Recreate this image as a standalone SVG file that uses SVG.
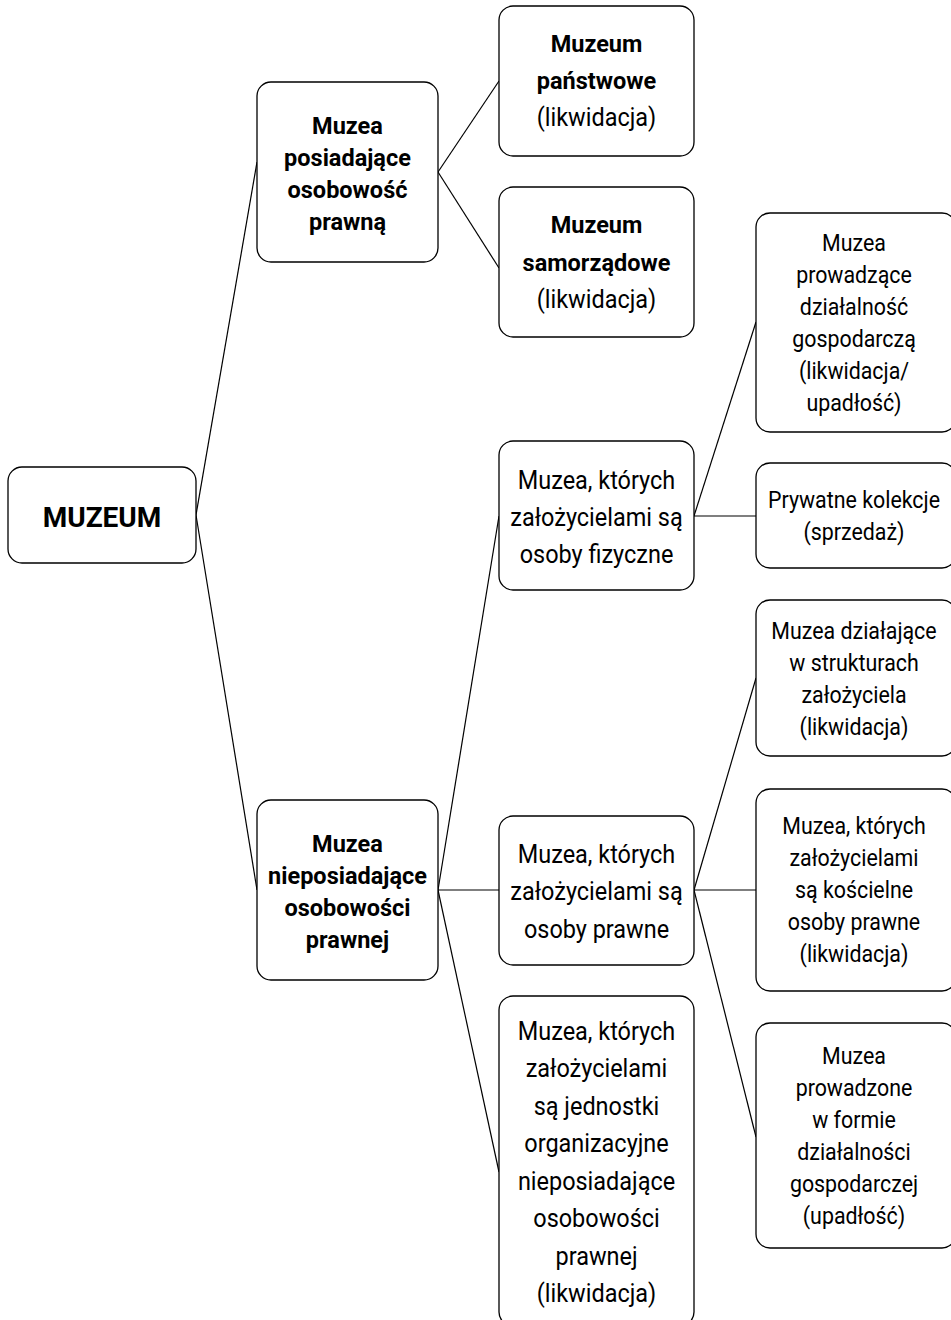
<svg xmlns="http://www.w3.org/2000/svg" width="951" height="1320" viewBox="0 0 951 1320">
<style>
.box{fill:#fff;stroke:#000;stroke-width:1.3}
.ln{stroke:#000;stroke-width:1.2;fill:none}
text{font-family:Roboto,"Liberation Sans",sans-serif;text-anchor:middle;fill:#000}
.r24{font-size:26.5px}
.r21{font-size:23.5px}
.b22{font-size:23.5px;font-weight:bold}
.b24{font-size:23.5px;font-weight:bold}
</style>
<rect width="951" height="1320" fill="#fff"/>
<g id="connectors">
<line class="ln" x1="196" y1="515" x2="257" y2="162"/>
<line class="ln" x1="196" y1="515" x2="257" y2="890"/>
<line class="ln" x1="438" y1="172" x2="499" y2="81"/>
<line class="ln" x1="438" y1="172" x2="499" y2="268"/>
<line class="ln" x1="438" y1="890" x2="499" y2="516"/>
<line class="ln" x1="438" y1="890" x2="499" y2="890"/>
<line class="ln" x1="438" y1="890" x2="499" y2="1172"/>
<line class="ln" x1="694" y1="516" x2="756" y2="322"/>
<line class="ln" x1="694" y1="516" x2="756" y2="516"/>
<line class="ln" x1="694" y1="890" x2="756" y2="678"/>
<line class="ln" x1="694" y1="890" x2="756" y2="890"/>
<line class="ln" x1="694" y1="890" x2="756" y2="1137"/>
</g>
<g id="n-muzeum">
<rect class="box" x="8" y="467" width="188" height="96" rx="14"/>
<text x="102" y="527" style="font-size:28px;font-weight:bold">MUZEUM</text>
</g>
<g id="n-posiadajace">
<rect class="box" x="257" y="82" width="181" height="180" rx="14"/>
<text class="b22" x="347.5" y="134">Muzea</text>
<text class="b22" x="347.5" y="166">posiadające</text>
<text class="b22" x="347.5" y="198">osobowość</text>
<text class="b22" x="347.5" y="230">prawną</text>
</g>
<g id="n-panstwowe">
<rect class="box" x="499" y="6" width="195" height="150" rx="14"/>
<text class="b24" x="596.5" y="52">Muzeum</text>
<text class="b24" x="596.5" y="89">państwowe</text>
<text class="r24" transform="translate(596.5,0) scale(0.885,1)" x="0" y="126">(likwidacja)</text>
</g>
<g id="n-samorzadowe">
<rect class="box" x="499" y="187" width="195" height="150" rx="14"/>
<text class="b24" x="596.5" y="233">Muzeum</text>
<text class="b24" x="596.5" y="271">samorządowe</text>
<text class="r24" transform="translate(596.5,0) scale(0.885,1)" x="0" y="308">(likwidacja)</text>
</g>
<g id="n-prowadzace">
<rect class="box" x="756" y="213" width="200" height="219" rx="14"/>
<g transform="translate(854,0) scale(0.91,1)">
<text class="r21" x="0" y="251">Muzea</text>
<text class="r21" x="0" y="283">prowadzące</text>
<text class="r21" x="0" y="315">działalność</text>
<text class="r21" x="0" y="347">gospodarczą</text>
<text class="r21" x="0" y="379">(likwidacja/</text>
<text class="r21" x="0" y="411">upadłość)</text>
</g>
</g>
<g id="n-prywatne">
<rect class="box" x="756" y="463" width="200" height="105" rx="14"/>
<g transform="translate(854,0) scale(0.91,1)">
<text class="r21" x="0" y="508">Prywatne kolekcje</text>
<text class="r21" x="0" y="540">(sprzedaż)</text>
</g>
</g>
<g id="n-fizyczne">
<rect class="box" x="499" y="441" width="195" height="149" rx="14"/>
<g transform="translate(596.5,0) scale(0.885,1)">
<text class="r24" x="0" y="489">Muzea, których</text>
<text class="r24" x="0" y="526">założycielami są</text>
<text class="r24" x="0" y="563">osoby fizyczne</text>
</g>
</g>
<g id="n-dzialajace">
<rect class="box" x="756" y="600" width="200" height="156" rx="14"/>
<g transform="translate(854,0) scale(0.91,1)">
<text class="r21" x="0" y="639">Muzea działające</text>
<text class="r21" x="0" y="671">w strukturach</text>
<text class="r21" x="0" y="703">założyciela</text>
<text class="r21" x="0" y="735">(likwidacja)</text>
</g>
</g>
<g id="n-koscielne">
<rect class="box" x="756" y="789" width="200" height="202" rx="14"/>
<g transform="translate(854,0) scale(0.91,1)">
<text class="r21" x="0" y="834">Muzea, których</text>
<text class="r21" x="0" y="866">założycielami</text>
<text class="r21" x="0" y="898">są kościelne</text>
<text class="r21" x="0" y="930">osoby prawne</text>
<text class="r21" x="0" y="962">(likwidacja)</text>
</g>
</g>
<g id="n-prowadzone">
<rect class="box" x="756" y="1023" width="200" height="225" rx="14"/>
<g transform="translate(854,0) scale(0.91,1)">
<text class="r21" x="0" y="1064">Muzea</text>
<text class="r21" x="0" y="1096">prowadzone</text>
<text class="r21" x="0" y="1128">w formie</text>
<text class="r21" x="0" y="1160">działalności</text>
<text class="r21" x="0" y="1192">gospodarczej</text>
<text class="r21" x="0" y="1224">(upadłość)</text>
</g>
</g>
<g id="n-nieposiadajace">
<rect class="box" x="257" y="800" width="181" height="180" rx="14"/>
<text class="b22" x="347.5" y="852">Muzea</text>
<text class="b22" x="347.5" y="884">nieposiadające</text>
<text class="b22" x="347.5" y="916">osobowości</text>
<text class="b22" x="347.5" y="948">prawnej</text>
</g>
<g id="n-prawne">
<rect class="box" x="499" y="816" width="195" height="149" rx="14"/>
<g transform="translate(596.5,0) scale(0.885,1)">
<text class="r24" x="0" y="863">Muzea, których</text>
<text class="r24" x="0" y="900">założycielami są</text>
<text class="r24" x="0" y="938">osoby prawne</text>
</g>
</g>
<g id="n-jednostki">
<rect class="box" x="499" y="996" width="195" height="330" rx="14"/>
<g transform="translate(596.5,0) scale(0.885,1)">
<text class="r24" x="0" y="1040">Muzea, których</text>
<text class="r24" x="0" y="1077">założycielami</text>
<text class="r24" x="0" y="1115">są jednostki</text>
<text class="r24" x="0" y="1152">organizacyjne</text>
<text class="r24" x="0" y="1190">nieposiadające</text>
<text class="r24" x="0" y="1227">osobowości</text>
<text class="r24" x="0" y="1265">prawnej</text>
<text class="r24" x="0" y="1302">(likwidacja)</text>
</g>
</g>
</svg>
